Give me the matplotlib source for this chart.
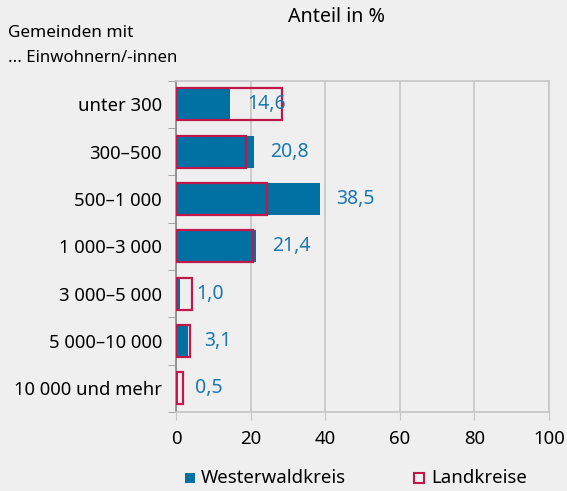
import numpy as np
import matplotlib.pyplot as plt
from matplotlib.patches import Rectangle

categories = ["unter 300", "300–500", "500–1 000", "1 000–3 000",
              "3 000–5 000", "5 000–10 000", "10 000 und mehr"]
westerwald = [14.6, 20.8, 38.5, 21.4, 1.0, 3.1, 0.5]
landkreise = [28.4, 18.7, 24.4, 20.6, 4.2, 3.7, 1.9]
value_labels = ["14,6", "20,8", "38,5", "21,4", "1,0", "3,1", "0,5"]

bg = "#eeefee"
blue = "#0170a3"
red = "#c2174b"
label_blue = "#1b78b0"
grid = "#c6c6c6"

plt.rcParams["font.family"] = ["Noto Sans", "DejaVu Sans"]

fig = plt.figure(figsize=(5.67, 4.91), dpi=100, facecolor=bg)
ax = fig.add_axes([176 / 567, 1 - 412 / 491, 373 / 567, 331.5 / 491])
ax.set_facecolor(bg)

y = np.arange(len(categories))
h = 0.675
ax.barh(y, westerwald, height=h, color=blue, zorder=3)
ax.barh(y, landkreise, height=h, facecolor="none", edgecolor=red,
        linewidth=1.6, zorder=4)

for yi, v, s in zip(y, westerwald, value_labels):
    ax.text(v + 4.5, yi, s, va="center", ha="left", color=label_blue,
            fontsize=14, zorder=5)

ax.set_xlim(0, 100)
ax.set_ylim(len(categories) - 0.5, -0.5)
ax.set_xticks([0, 20, 40, 60, 80, 100])
ax.tick_params(axis="x", length=6, color=grid, labelsize=13.4, pad=7)
ax.set_yticks(y)
ax.set_yticklabels(categories)
ax.tick_params(axis="y", which="major", length=0, labelsize=13.3, pad=10)
ax.set_yticks(np.arange(-0.5, len(categories)), minor=True)
ax.tick_params(axis="y", which="minor", length=6, color="#999999")
ax.xaxis.grid(True, color=grid, linewidth=1.2, zorder=0)
ax.set_axisbelow(True)
for side in ["top", "right", "bottom"]:
    ax.spines[side].set_color(grid)
    ax.spines[side].set_linewidth(1.2)
ax.spines["left"].set_color("#888888")
ax.spines["left"].set_linewidth(1.2)

fig.text(336 / 567, 1 - 17 / 491, "Anteil in %", ha="center", va="center",
         fontsize=14.2)
fig.text(8 / 567, 1 - 33 / 491, "Gemeinden mit", ha="left", va="center",
         fontsize=12.3)
fig.text(8 / 567, 1 - 58 / 491, "... Einwohnern/-innen", ha="left",
         va="center", fontsize=12.1)

# legend
ly = 1 - 478 / 491
sq = 10
fig.patches.append(Rectangle((185 / 567, ly - sq / 2 / 491), sq / 567, sq / 491,
                             transform=fig.transFigure, facecolor=blue,
                             edgecolor="none"))
fig.text(201 / 567, ly, "Westerwaldkreis", ha="left", va="center", fontsize=13.4)
fig.patches.append(Rectangle((414 / 567, ly - sq / 2 / 491), sq / 567, sq / 491,
                             transform=fig.transFigure, facecolor="none",
                             edgecolor=red, linewidth=1.5))
fig.text(431 / 567, ly, "Landkreise", ha="left", va="center", fontsize=13.4)

fig.savefig("out.png", dpi=100, facecolor=bg)
